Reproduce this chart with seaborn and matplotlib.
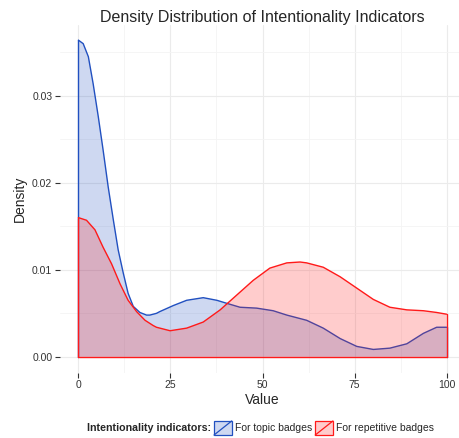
"""Density plot: intentionality indicators for topic vs repetitive badges."""

import matplotlib.pyplot as plt
import pandas as pd
import seaborn as sns
from matplotlib.colors import to_rgb
from matplotlib.legend_handler import HandlerBase
from matplotlib.lines import Line2D
from matplotlib.patches import Rectangle

# density curves
TOPIC_X = [0, 1.3, 2.7, 4.0, 5.4, 6.7, 8.1, 9.5, 10.8, 12.2, 13.5, 14.9, 16.7,
           18.5, 19.4, 21.2, 22.1, 25.8, 29.4, 33.9, 37.6, 40.7, 43.9, 48.4,
           52.9, 56.6, 60.2, 62.0, 66.5, 71.1, 75.6, 80.1, 84.6, 89.2, 93.7,
           97.3, 100]
TOPIC_DENSITY = [0.0364, 0.0360, 0.0345, 0.0314, 0.0276, 0.0238, 0.0195, 0.0157,
                 0.0123, 0.0096, 0.0073, 0.0058, 0.0051, 0.0048, 0.0048, 0.0050,
                 0.0052, 0.0059, 0.0065, 0.0068, 0.0065, 0.0061, 0.0057, 0.0056,
                 0.0053, 0.0048, 0.0044, 0.0042, 0.0033, 0.0021, 0.0012, 0.00085,
                 0.0010, 0.0015, 0.0027, 0.0034, 0.0034]

REPETITIVE_X = [0, 2.2, 4.5, 6.7, 9.0, 11.3, 13.5, 15.8, 18.1, 20.3, 21.2, 24.9,
                29.4, 33.9, 38.5, 43.0, 47.5, 52.0, 56.6, 60.2, 62.0, 66.5, 71.1,
                75.6, 80.1, 84.6, 89.2, 93.7, 97.3, 100]
REPETITIVE_DENSITY = [0.0160, 0.0157, 0.0146, 0.0126, 0.0107, 0.0084, 0.0065,
                      0.0052, 0.0042, 0.0036, 0.0034, 0.0030, 0.0033, 0.0040,
                      0.0054, 0.0071, 0.0088, 0.0102, 0.0108, 0.0109, 0.0108,
                      0.0103, 0.0092, 0.0079, 0.0066, 0.0057, 0.0054, 0.0053,
                      0.0051, 0.0049]

GROUPS = ["For topic badges", "For repetitive badges"]
COLORS = {"For topic badges": "#2150C0", "For repetitive badges": "#FF1A1A"}

X_TICKS = [0, 25, 50, 75, 100]
Y_TICKS = [0.00, 0.01, 0.02, 0.03]


class DiagonalKey(HandlerBase):
    """ggplot-style fill key: box with a diagonal stroke."""

    def create_artists(self, legend, orig_handle, xdescent, ydescent,
                       width, height, fontsize, trans):
        color = orig_handle.get_edgecolor()
        rect = Rectangle((-xdescent, -ydescent), width, height,
                         facecolor=orig_handle.get_facecolor(),
                         edgecolor=color, lw=0.9, transform=trans)
        line = Line2D([-xdescent, -xdescent + width],
                      [-ydescent, -ydescent + height],
                      color=color, lw=0.9, transform=trans)
        return [rect, line]


df = pd.concat([
    pd.DataFrame({"Value": TOPIC_X, "Density": TOPIC_DENSITY, "group": GROUPS[0]}),
    pd.DataFrame({"Value": REPETITIVE_X, "Density": REPETITIVE_DENSITY, "group": GROUPS[1]}),
])

sns.set_style("white")
plt.rcParams["font.family"] = ["Liberation Sans", "DejaVu Sans"]

fig = plt.figure(figsize=(4.6, 4.38), dpi=100)
ax = fig.add_axes([60 / 460, 1 - 372.5 / 438, 405 / 460, 348 / 438])

handles = []
for i, g in enumerate(GROUPS):
    sub = df[df["group"] == g]
    c = COLORS[g]
    z = 2 + 2 * i  # fill then outline, group by group
    ax.fill_between(sub["Value"], sub["Density"], 0, facecolor=c, alpha=0.22,
                    edgecolor="none", zorder=z)
    sns.lineplot(data=sub, x="Value", y="Density", color=c, lw=1.0, ax=ax,
                 zorder=z + 1)
    # outline on the sides like geom_density
    ax.plot([0, 0], [0, sub["Density"].iloc[0]], color=c, lw=1.0, zorder=z + 1)
    ax.plot([100, 100], [0, sub["Density"].iloc[-1]], color=c, lw=1.0, zorder=z + 1)
    handles.append(Rectangle((0, 0), 1, 1, facecolor=(*to_rgb(c), 0.22),
                             edgecolor=c))
# bottom edge, the red outline sits on top in the reference
ax.plot([0, 100], [0, 0], color=COLORS[GROUPS[1]], lw=1.0, zorder=6)

ax.set_xlim(-5, 105)
ax.set_ylim(-0.0018, 0.0382)
ax.set_xticks(X_TICKS)
ax.set_yticks(Y_TICKS)
ax.set_xticks([12.5, 37.5, 62.5, 87.5], minor=True)
ax.set_yticks([0.005, 0.015, 0.025, 0.035], minor=True)
ax.set_xticklabels([str(t) for t in X_TICKS])
ax.set_yticklabels([f"{t:.2f}" for t in Y_TICKS])
ax.grid(which="major", color="#EBEBEB", lw=0.8, zorder=0)
ax.grid(which="minor", color="#F4F4F4", lw=0.6, zorder=0)
ax.set_axisbelow(True)
for s in ax.spines.values():
    s.set_visible(False)
ax.tick_params(which="major", direction="out", length=3.5, width=0.8,
               color="#333333", labelsize=7.5, labelcolor="#333333", pad=2,
               bottom=True, left=True)
ax.tick_params(which="minor", length=0)

ax.set_xlabel("Value", fontsize=10, labelpad=2)
ax.set_ylabel("Density", fontsize=10, labelpad=4)
ax.set_title("Density Distribution of Intentionality Indicators", fontsize=11.5,
             pad=1.5)

fig.text(211 / 460, 1 - 428 / 438, "Intentionality indicators:", fontsize=7.7,
         fontweight="bold", ha="right", va="center")
fig.legend(handles, GROUPS, handler_map={Rectangle: DiagonalKey()},
           loc="center left", bbox_to_anchor=(214 / 460, 1 - 428 / 438),
           ncol=2, frameon=False, fontsize=7.5, handlelength=1.7,
           handleheight=1.7, handletextpad=0.3, columnspacing=0.3,
           borderaxespad=0, borderpad=0)

fig.savefig("out.png", dpi=100)
